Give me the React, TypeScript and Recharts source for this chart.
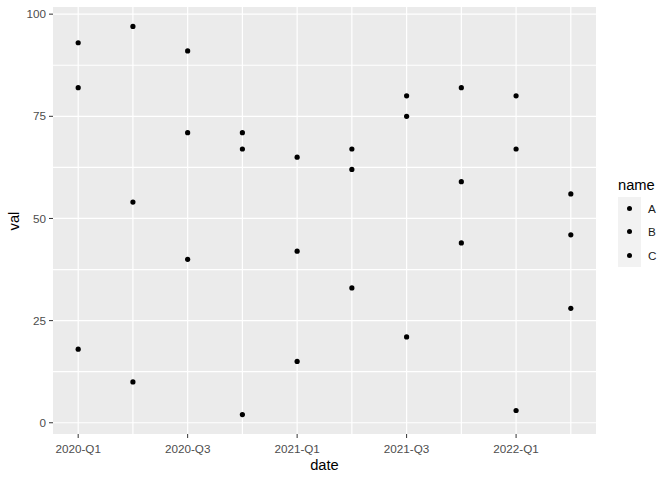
import { CartesianGrid, ReferenceLine, Scatter, ScatterChart, XAxis, YAxis } from 'recharts';

const quarters = ['2020-Q1', '2020-Q2', '2020-Q3', '2020-Q4', '2021-Q1', '2021-Q2', '2021-Q3', '2021-Q4', '2022-Q1', '2022-Q2'];
const seriesNames = ['A', 'B', 'C'];
const valsA = [93, 97, 91, 71, 65, 67, 80, 82, 80, 56];
const valsB = [82, 54, 71, 67, 42, 62, 75, 59, 67, 46];
const valsC = [18, 10, 40, 2, 15, 33, 21, 44, 3, 28];
const xTicks = [0, 2, 4, 6, 8];
const yTicks = [0, 25, 50, 75, 100];
const yGrid = [0, 12.5, 25, 37.5, 50, 62.5, 75, 87.5, 100];
const xGrid = quarters.map((_, i) => i);

const toRows = (vals: number[]) => vals.map((v, i) => ({ q: i, val: v }));
const series = [valsA, valsB, valsC].map(toRows);

const font = '"Liberation Sans", Arial, sans-serif';
const tick = { fontSize: 11.7, fill: '#4D4D4D', fontFamily: font };

const dot = (p: any) => <circle cx={p.cx} cy={p.cy} r={2.6} fill="#000" />;

export default function App() {
  return (
    <div style={{ position: 'absolute', left: 0, top: 0, width: 672, height: 480, background: '#fff', fontFamily: font }}>
      <ScatterChart width={672} height={480} margin={{ top: 7, right: 76, bottom: 0, left: 0 }}>
        <CartesianGrid fill="#EBEBEB" stroke="#FFFFFF" strokeWidth={1.2} vertical={false} horizontalValues={yGrid} />
        {xGrid.map((v) => (
          <ReferenceLine key={v} x={v} stroke="#FFFFFF" strokeWidth={1.2} />
        ))}
        <XAxis
          type="number"
          dataKey="q"
          domain={[-0.46, 9.46]}
          ticks={xTicks}
          tickFormatter={(i: number) => quarters[i]}
          allowDataOverflow
          height={46}
          axisLine={false}
          tickSize={4}
          tickMargin={7}
          tickLine={{ stroke: '#333333' }}
          tick={tick}
          label={{
            content: () => (
              <text x={324.5} y={465} textAnchor="middle" dominantBaseline="central" fontSize={14.7} fill="#000" fontFamily={font}>
                date
              </text>
            ),
          }}
        />
        <YAxis
          type="number"
          dataKey="val"
          domain={[-2.75, 101.75]}
          ticks={yTicks}
          allowDataOverflow
          width={53}
          axisLine={false}
          tickSize={4}
          tickMargin={3}
          tickLine={{ stroke: '#333333' }}
          tick={tick}
          label={{
            content: () => (
              <text
                x={14}
                y={221}
                transform="rotate(-90 14 221)"
                textAnchor="middle"
                dominantBaseline="central"
                fontSize={14.7}
                fill="#000"
                fontFamily={font}
              >
                val
              </text>
            ),
          }}
        />
        {series.map((rows, i) => (
          <Scatter key={seriesNames[i]} name={seriesNames[i]} data={rows} shape={dot} isAnimationActive={false} />
        ))}
      </ScatterChart>
      <div style={{ position: 'absolute', left: 618, top: 177 }}>
        <div style={{ fontSize: 14.7, lineHeight: '17px', color: '#000', marginBottom: 3 }}>name</div>
        {seriesNames.map((n) => (
          <div key={n} style={{ display: 'flex', alignItems: 'center', height: 23.3 }}>
            <div style={{ width: 23, height: 23.3, background: '#F2F2F2', position: 'relative' }}>
              <div style={{ position: 'absolute', left: 9, top: 9, width: 5.2, height: 5.2, borderRadius: '50%', background: '#000' }} />
            </div>
            <span style={{ fontSize: 11.7, marginLeft: 7, color: '#1A1A1A' }}>{n}</span>
          </div>
        ))}
      </div>
    </div>
  );
}
